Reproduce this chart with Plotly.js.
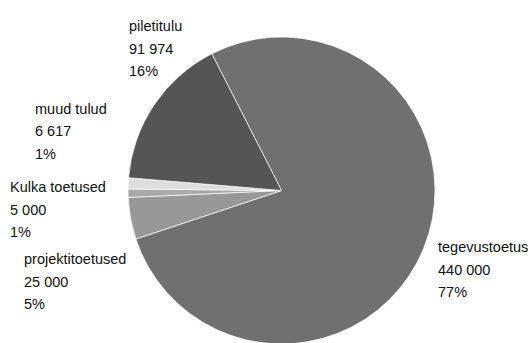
<!DOCTYPE html>
<html>
<head>
<meta charset="utf-8">
<script src="https://cdn.plot.ly/plotly-3.0.1.min.js"></script>
<style>
html,body{margin:0;padding:0;background:#fff;overflow:hidden;}
#chart{width:528px;height:360px;}
</style>
</head>
<body>
<div id="chart"></div>
<script>
// Data
var categories = ['tegevustoetus', 'projektitoetused', 'Kulka toetused', 'muud tulud', 'piletitulu'];
var values = [440000, 25000, 5000, 6617, 91974];
var valueLabels = ['440 000', '25 000', '5 000', '6 617', '91 974'];
var percentLabels = ['77%', '5%', '1%', '1%', '16%'];

// Styling
var sliceColors = ['#707070', '#989898', '#a9a9a9', '#dedede', '#555555'];
var W = 528, H = 360;
var M = {l: 128, r: 93, t: 37, b: 16};
var plotW = W - M.l - M.r, plotH = H - M.t - M.b;
// label anchor (left x, first-line center y) in pixels
var labelPos = [[437, 247], [23, 259], [9, 187], [34, 108.5], [128, 26]];
var lineGap = 22.5;
var fontFam = '"Liberation Sans", Arial, sans-serif';

function px2x(px){ return (px - M.l) / plotW; }
function px2y(py){ return 1 - (py - M.t) / plotH; }

var annotations = [];
categories.forEach(function(c, i){
  var lines = [c, valueLabels[i], percentLabels[i]];
  lines.forEach(function(t, j){
    annotations.push({
      text: t, showarrow: false, xref: 'paper', yref: 'paper',
      x: px2x(labelPos[i][0]), y: px2y(labelPos[i][1] + j * lineGap),
      xanchor: 'left', yanchor: 'middle', align: 'left', borderpad: 0,
      font: {family: fontFam, size: 14.5, color: '#111111'}
    });
  });
});

var trace = {
  type: 'pie',
  labels: categories,
  values: values,
  sort: false,
  direction: 'clockwise',
  rotation: -27,
  textinfo: 'none',
  hoverinfo: 'label+value+percent',
  marker: {colors: sliceColors, line: {color: '#ffffff', width: 0.7}},
  showlegend: false
};

var layout = {
  width: W, height: H,
  margin: M,
  paper_bgcolor: '#ffffff',
  plot_bgcolor: '#ffffff',
  showlegend: false,
  annotations: annotations
};

Plotly.newPlot('chart', [trace], layout, {displayModeBar: false, staticPlot: true});
</script>
</body>
</html>
